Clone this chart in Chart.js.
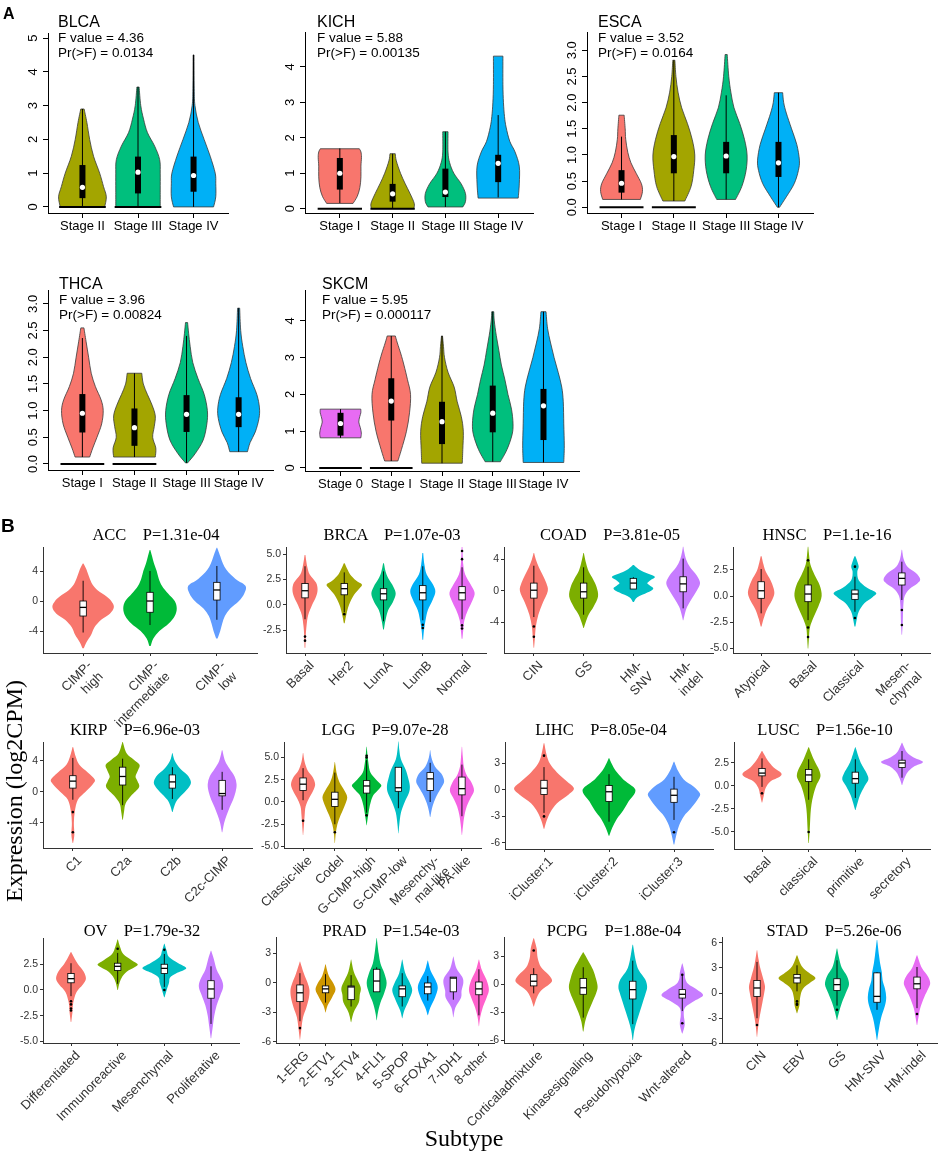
<!DOCTYPE html>
<html lang="en">
<head>
<meta charset="UTF-8">
<title>Expression by stage and subtype (violin plots)</title>
<script src="https://cdn.jsdelivr.net/npm/chart.js"></script>
<style>
  body { margin: 0; background: #fff; }
  #fig { position: relative; width: 941px; height: 1155px; overflow: hidden; font-family: "Liberation Sans", Arial, sans-serif; }
  #fig canvas { position: absolute; }
  .txt { position: absolute; white-space: pre; color: #000; }
  .headA { font-size: 16px; line-height: 16px; }
  .headA span { display: block; font-size: 13.5px; line-height: 15px; }
  .headB { font-family: "Liberation Serif", "Times New Roman", serif; font-size: 16.5px; line-height: 16px; width: 300px; text-align: center; }
  .big { font-family: "Liberation Serif", "Times New Roman", serif; font-size: 24px; line-height: 24px; width: 300px; text-align: center; }
  .letter { font-weight: bold; }
</style>
</head>
<body>
<div id="fig"></div>
<script>
// ---------- panel A : expression by tumour stage ----------
const blcaGroups = ['Stage II', 'Stage III', 'Stage IV'];
const blcaStats = ['4.36', '0.0134'];
const blcaTicks = ['0', '1', '2', '3', '4', '5'];
const blcaShapes = [
  [[0, 0.4], [0.3, 0.43], [0.6, 0.38], [1.0, 0.31], [1.5, 0.2], [2.0, 0.13], [2.5, 0.08], [2.9, 0.03]],
  [[0, 0.4], [0.5, 0.4], [1.0, 0.4], [1.4, 0.39], [1.8, 0.3], [2.2, 0.17], [2.6, 0.1], [3.0, 0.05], [3.55, 0.02]],
  [[0, 0.36], [0.3, 0.4], [0.7, 0.4], [1.0, 0.39], [1.5, 0.3], [2.0, 0.19], [2.5, 0.085], [3.0, 0.025], [3.5, 0.012], [4.5, 0.008]]
];
const blcaBoxes = [[0, 0.26, 0.58, 1.24, 2.9], [0, 0.4, 1.03, 1.49, 3.55], [0, 0.45, 0.93, 1.49, 4.5]];
const blcaZero = [1, 1, 0];

const kichGroups = ['Stage I', 'Stage II', 'Stage III', 'Stage IV'];
const kichStats = ['5.88', '0.00135'];
const kichTicks = ['0', '1', '2', '3', '4'];
const kichShapes = [
  [[0.15, 0.25], [0.35, 0.33], [0.6, 0.38], [0.9, 0.4], [1.2, 0.4], [1.45, 0.41], [1.6, 0.4], [1.69, 0.37]],
  [[0, 0.4], [0.15, 0.41], [0.43, 0.33], [0.7, 0.24], [1.0, 0.15], [1.35, 0.07], [1.55, 0.05]],
  [[0.05, 0.33], [0.2, 0.38], [0.43, 0.38], [0.7, 0.3], [1.0, 0.16], [1.3, 0.08], [1.6, 0.05], [2.17, 0.05]],
  [[0.3, 0.38], [0.7, 0.4], [1.2, 0.4], [1.6, 0.32], [1.9, 0.22], [2.3, 0.15], [2.6, 0.12], [3.0, 0.1], [3.5, 0.09], [4.3, 0.09]]
];
const kichBoxes = [[0.16, 0.54, 1.0, 1.43, 1.7], [0, 0.2, 0.42, 0.7, 1.55], [0.05, 0.33, 0.47, 1.13, 2.17], [0.32, 0.75, 1.28, 1.52, 2.64]];
const kichZero = [1, 1, 0, 0];

const escaGroups = ['Stage I', 'Stage II', 'Stage III', 'Stage IV'];
const escaStats = ['3.52', '0.0164'];
const escaTicks = ['0.0', '0.5', '1.0', '1.5', '2.0', '2.5', '3.0'];
const escaShapes = [
  [[0.15, 0.36], [0.3, 0.4], [0.45, 0.38], [0.65, 0.28], [0.85, 0.18], [1.05, 0.12], [1.3, 0.08], [1.5, 0.07], [1.76, 0.05]],
  [[0.12, 0.21], [0.4, 0.33], [0.7, 0.38], [1.0, 0.4], [1.3, 0.35], [1.6, 0.26], [1.9, 0.15], [2.2, 0.08], [2.5, 0.04], [2.81, 0.02]],
  [[0.15, 0.18], [0.4, 0.3], [0.7, 0.38], [1.0, 0.4], [1.3, 0.35], [1.6, 0.26], [1.9, 0.15], [2.2, 0.09], [2.5, 0.05], [2.92, 0.02]],
  [[0, 0.02], [0.2, 0.15], [0.45, 0.3], [0.7, 0.38], [0.9, 0.4], [1.2, 0.35], [1.5, 0.25], [1.8, 0.15], [2.0, 0.1], [2.19, 0.08]]
];
const escaBoxes = [[0.15, 0.28, 0.46, 0.71, 1.35], [0.12, 0.65, 0.97, 1.38, 2.81], [0.15, 0.65, 0.98, 1.25, 2.14], [0, 0.58, 0.85, 1.25, 2.19]];
const escaZero = [1, 1, 0, 0];

const thcaGroups = ['Stage I', 'Stage II', 'Stage III', 'Stage IV'];
const thcaStats = ['3.96', '0.00824'];
const thcaTicks = ['0.0', '0.5', '1.0', '1.5', '2.0', '2.5', '3.0'];
const thcaShapes = [
  [[0.13, 0.14], [0.3, 0.2], [0.5, 0.28], [0.75, 0.37], [1.0, 0.4], [1.2, 0.36], [1.45, 0.25], [1.7, 0.17], [2.0, 0.12], [2.3, 0.07], [2.55, 0.03]],
  [[0.13, 0.4], [0.3, 0.41], [0.5, 0.35], [0.7, 0.38], [0.9, 0.4], [1.1, 0.34], [1.3, 0.25], [1.5, 0.17], [1.7, 0.14]],
  [[0.02, 0.02], [0.2, 0.17], [0.45, 0.32], [0.75, 0.39], [1.0, 0.4], [1.3, 0.34], [1.6, 0.22], [1.9, 0.12], [2.2, 0.07], [2.45, 0.04], [2.65, 0.02]],
  [[0.23, 0.17], [0.4, 0.22], [0.6, 0.32], [0.85, 0.39], [1.05, 0.4], [1.3, 0.35], [1.6, 0.23], [1.9, 0.14], [2.2, 0.08], [2.5, 0.04], [2.92, 0.02]]
];
const thcaBoxes = [[0.13, 0.59, 0.95, 1.31, 2.36], [0.13, 0.34, 0.68, 1.04, 1.7], [0.02, 0.6, 0.93, 1.29, 2.4], [0.23, 0.69, 0.93, 1.25, 2.92]];
const thcaZero = [1, 1, 0, 0];

const skcmGroups = ['Stage 0', 'Stage I', 'Stage II', 'Stage III', 'Stage IV'];
const skcmStats = ['5.95', '0.000117'];
const skcmTicks = ['0', '1', '2', '3', '4'];
const skcmShapes = [
  [[0.82, 0.4], [0.95, 0.41], [1.1, 0.39], [1.25, 0.36], [1.4, 0.38], [1.5, 0.4], [1.6, 0.4]],
  [[0.19, 0.13], [0.5, 0.2], [1.0, 0.3], [1.5, 0.36], [2.0, 0.38], [2.4, 0.32], [2.8, 0.25], [3.1, 0.19], [3.4, 0.12], [3.59, 0.08]],
  [[0.13, 0.4], [0.5, 0.41], [1.0, 0.42], [1.4, 0.38], [1.8, 0.3], [2.2, 0.24], [2.6, 0.12], [3.0, 0.05], [3.3, 0.03], [3.59, 0.01]],
  [[0.17, 0.15], [0.5, 0.28], [0.9, 0.38], [1.2, 0.4], [1.6, 0.37], [2.0, 0.3], [2.4, 0.24], [2.8, 0.17], [3.2, 0.12], [3.6, 0.07], [4.0, 0.03], [4.25, 0.02]],
  [[0.15, 0.4], [0.6, 0.41], [1.2, 0.4], [1.8, 0.39], [2.2, 0.36], [2.6, 0.29], [3.0, 0.21], [3.4, 0.14], [3.8, 0.08], [4.25, 0.05]]
];
const skcmBoxes = [[0.82, 0.88, 1.21, 1.5, 1.6], [0.19, 1.29, 1.82, 2.44, 3.59], [0.13, 0.65, 1.26, 1.8, 3.59], [0.17, 0.97, 1.49, 2.24, 4.25], [0.15, 0.76, 1.69, 2.15, 4.25]];
const skcmZero = [1, 1, 0, 0, 0];

// ---------- panel B : expression by molecular subtype ----------
const accGroups = [['CIMP-', 'high'], ['CIMP-', 'intermediate'], ['CIMP-', 'low']];
const accTicks = ['-4', '0', '4'];
const accShapes = [
  [[-6.3, 0.01], [-5.5, 0.05], [-4.5, 0.12], [-3.5, 0.17], [-2.5, 0.27], [-1.7, 0.4], [-0.8, 0.46], [0, 0.42], [0.6, 0.35], [1.4, 0.22], [2.2, 0.14], [3.2, 0.09], [4.2, 0.05], [5, 0.005]],
  [[-6, 0.01], [-5, 0.05], [-4, 0.14], [-3, 0.28], [-2, 0.37], [-1, 0.4], [0, 0.37], [1, 0.27], [2, 0.18], [3, 0.13], [4, 0.1], [5, 0.06], [6, 0.03], [6.8, 0.005]],
  [[-5, 0.01], [-4, 0.05], [-3, 0.08], [-2, 0.12], [-1, 0.2], [0, 0.33], [1, 0.41], [2, 0.43], [2.8, 0.3], [3.5, 0.21], [4.2, 0.14], [5, 0.09], [6, 0.05], [7.1, 0.005]]
];
const accBoxes = [[-4.2, -2.0, -0.85, 0, 2.7], [-3.2, -1.5, 0, 1.16, 4.0], [-2.5, 0.13, 1.47, 2.49, 4.67]];
const accOutliers = [];

const brcaGroups = ['Basal', 'Her2', 'LumA', 'LumB', 'Normal'];
const brcaTicks = ['-2.5', '0.0', '2.5', '5.0'];
const brcaShapes = [
  [[-4.2, 0.01], [-3, 0.02], [-2, 0.04], [-1, 0.08], [0, 0.18], [0.8, 0.28], [1.5, 0.32], [2.2, 0.28], [3, 0.12], [3.7, 0.06], [4.9, 0.01]],
  [[-1.8, 0.01], [-1, 0.05], [0, 0.12], [1, 0.25], [1.6, 0.38], [2, 0.45], [2.4, 0.3], [3, 0.15], [3.5, 0.08], [4.1, 0.01]],
  [[-2.4, 0.01], [-1.5, 0.05], [-0.5, 0.12], [0.3, 0.24], [1.1, 0.31], [1.8, 0.25], [2.5, 0.14], [3.2, 0.06], [4.1, 0.01]],
  [[-3.4, 0.01], [-2.5, 0.03], [-1.5, 0.07], [-0.5, 0.13], [0.5, 0.25], [1.3, 0.32], [2, 0.26], [3, 0.1], [4, 0.04], [5.1, 0.01]],
  [[-3.3, 0.01], [-2.5, 0.03], [-1.5, 0.06], [-0.5, 0.15], [0.5, 0.27], [1.2, 0.32], [2, 0.22], [3, 0.08], [4, 0.03], [5.7, 0.01]]
];
const brcaBoxes = [[-1.4, 0.7, 1.4, 2.1, 3.8], [-0.7, 1.0, 1.6, 2.1, 3.2], [-1.6, 0.5, 1.1, 1.6, 3.3], [-1.5, 0.5, 1.2, 1.9, 3.8], [-1.4, 0.5, 1.2, 1.8, 3.7]];
const brcaOutliers = [[0, -3.1], [0, -3.5], [1, -0.9], [3, -1.95], [3, -2.25], [4, 4.5], [4, 5.3], [4, -2.0], [4, -2.3]];

const coadGroups = ['CIN', 'GS', ['HM-', 'SNV'], ['HM-', 'indel']];
const coadTicks = ['-4', '0', '4'];
const coadShapes = [
  [[-7.2, 0.005], [-6, 0.02], [-4.5, 0.04], [-3, 0.09], [-1.5, 0.18], [0, 0.28], [1, 0.25], [2, 0.18], [3, 0.1], [4, 0.04], [4.8, 0.005]],
  [[-4.7, 0.005], [-4, 0.04], [-3, 0.1], [-2, 0.2], [-0.7, 0.29], [0.5, 0.26], [1.5, 0.19], [2.5, 0.1], [3.5, 0.05], [4.8, 0.005]],
  [[-1.4, 0.01], [-0.8, 0.08], [-0.2, 0.28], [0.3, 0.4], [0.7, 0.33], [1.0, 0.28], [1.4, 0.35], [1.8, 0.43], [2.3, 0.25], [2.8, 0.1], [3.3, 0.01]],
  [[-3.7, 0.005], [-3, 0.03], [-2, 0.08], [-1, 0.17], [0, 0.27], [1, 0.34], [2, 0.27], [3, 0.14], [4, 0.06], [5, 0.02], [5.6, 0.005]]
];
const coadBoxes = [[-3.3, -0.9, 0.1, 1.0, 3.2], [-3, -0.9, -0.1, 1.0, 3], [0.25, 0.25, 1.0, 1.6, 1.75], [-2.2, -0.1, 0.9, 1.8, 4.1]];
const coadOutliers = [[0, -4.5], [0, -5.8]];

const hnscGroups = ['Atypical', 'Basal', 'Classical', ['Mesen-', 'chymal']];
const hnscTicks = ['-5.0', '-2.5', '0.0', '2.5'];
const hnscShapes = [
  [[-2.9, 0.01], [-2.2, 0.05], [-1.3, 0.12], [-0.5, 0.22], [0.2, 0.28], [0.8, 0.26], [1.5, 0.2], [2.3, 0.1], [3, 0.05], [3.8, 0.01]],
  [[-5, 0.005], [-4, 0.02], [-3, 0.04], [-2, 0.12], [-1, 0.22], [0, 0.29], [1, 0.25], [2, 0.14], [3, 0.05], [4, 0.02], [4.7, 0.005]],
  [[-2.9, 0.01], [-2.2, 0.04], [-1.5, 0.08], [-0.7, 0.2], [-0.1, 0.38], [0.3, 0.45], [0.8, 0.25], [1.5, 0.08], [2.3, 0.05], [2.8, 0.08], [3.3, 0.05], [3.8, 0.01]],
  [[-3.7, 0.005], [-2.5, 0.02], [-1, 0.03], [0, 0.06], [0.7, 0.17], [1.2, 0.33], [1.6, 0.39], [2.2, 0.3], [2.8, 0.12], [3.5, 0.04], [4.4, 0.005]]
];
const hnscBoxes = [[-1.65, -0.22, 0.5, 1.36, 2.57], [-2.3, -0.54, 0.19, 1.05, 2.8], [-1.5, -0.32, 0.19, 0.57, 1.84], [-0.38, 1.05, 1.68, 2.2, 3.27]];
const hnscOutliers = [[1, 3.4], [1, -3.0], [1, -3.9], [2, 2.8], [2, -2.1], [3, -1.33], [3, -2.76]];

const kirpGroups = ['C1', 'C2a', 'C2b', 'C2c-CIMP'];
const kirpTicks = ['-4', '0', '4'];
const kirpShapes = [
  [[-6.6, 0.005], [-5.5, 0.03], [-4, 0.02], [-2.5, 0.04], [-1, 0.1], [0, 0.25], [1, 0.4], [1.6, 0.44], [2.5, 0.3], [3.5, 0.13], [4.5, 0.06], [5.8, 0.005]],
  [[-3.6, 0.005], [-2.5, 0.03], [-1.5, 0.06], [-0.5, 0.17], [0.6, 0.33], [1.4, 0.3], [2, 0.26], [2.8, 0.31], [3.5, 0.34], [4.2, 0.22], [5, 0.08], [6.45, 0.005]],
  [[-2.6, 0.005], [-1.8, 0.04], [-1, 0.1], [0, 0.25], [0.8, 0.35], [1.4, 0.37], [2.2, 0.3], [3, 0.16], [4, 0.05], [5, 0.005]],
  [[-5.2, 0.005], [-4, 0.04], [-3, 0.09], [-2, 0.15], [-1, 0.22], [0, 0.27], [1, 0.29], [2, 0.25], [3, 0.15], [4, 0.06], [5.4, 0.005]]
];
const kirpBoxes = [[-1.0, 0.5, 1.4, 2.1, 4.4], [-1.7, 0.9, 2.0, 3.2, 4.3], [-0.9, 0.5, 1.3, 2.2, 3.2], [-2.3, -0.5, -0.2, 1.5, 2.6]];
const kirpOutliers = [[0, -2.6], [0, -5.2]];

const lggGroups = ['Classic-like', 'Codel', 'G-CIMP-high', 'G-CIMP-low', ['Mesenchy-', 'mal-like'], 'PA-like'];
const lggTicks = ['-5.0', '-2.5', '0.0', '2.5', '5.0'];
const lggShapes = [
  [[-3.7, 0.005], [-2.5, 0.03], [-1.5, 0.05], [-0.5, 0.08], [0.5, 0.2], [1.3, 0.32], [2, 0.38], [2.8, 0.3], [3.5, 0.15], [4.5, 0.05], [5.5, 0.005]],
  [[-4.6, 0.005], [-3.5, 0.03], [-2.5, 0.08], [-1.5, 0.18], [-0.5, 0.3], [0.5, 0.39], [1.3, 0.3], [2.2, 0.15], [3.2, 0.06], [4.5, 0.005]],
  [[-2.6, 0.005], [-1.7, 0.04], [-0.8, 0.08], [0, 0.13], [0.8, 0.22], [1.5, 0.4], [1.9, 0.46], [2.5, 0.3], [3.3, 0.12], [4.3, 0.06], [5.2, 0.03], [6.2, 0.005]],
  [[-3.5, 0.005], [-2.5, 0.03], [-1.2, 0.08], [0, 0.2], [1, 0.33], [1.8, 0.36], [2.8, 0.3], [3.7, 0.22], [4.8, 0.08], [5.8, 0.03], [6.8, 0.005]],
  [[-1.7, 0.005], [-1, 0.04], [0, 0.12], [1, 0.25], [1.8, 0.38], [2.4, 0.44], [3.2, 0.35], [4, 0.15], [5, 0.04], [5.8, 0.005]],
  [[-3.7, 0.005], [-2.5, 0.04], [-1.5, 0.08], [-0.5, 0.15], [0.5, 0.28], [1.3, 0.38], [2.2, 0.3], [3, 0.15], [4, 0.06], [5, 0.03], [6.2, 0.005]]
];
const lggBoxes = [[0.2, 1.3, 2.0, 2.7, 3.8], [-2.5, -0.5, 0.3, 1.1, 3.3], [-1.2, 1.0, 1.8, 2.4, 4.7], [-0.7, 1.2, 1.6, 3.9, 3.9], [0, 1.3, 2.6, 3.3, 4.4], [-1.6, 0.8, 1.5, 2.8, 4.2]];
const lggOutliers = [[0, -2.1], [1, -3.4], [2, 5.0], [2, 5.2], [2, -1.5]];

const lihcGroups = ['iCluster:1', 'iCluster:2', 'iCluster:3'];
const lihcTicks = ['-6', '-3', '0', '3'];
const lihcShapes = [
  [[-4.4, 0.005], [-3.5, 0.04], [-2.5, 0.1], [-1.5, 0.2], [-0.5, 0.38], [0.2, 0.46], [1, 0.35], [2, 0.2], [3, 0.09], [4, 0.04], [5.3, 0.005]],
  [[-5.2, 0.005], [-4.3, 0.05], [-3.3, 0.12], [-2.3, 0.22], [-1.3, 0.3], [-0.3, 0.4], [0.3, 0.38], [1.2, 0.22], [2.2, 0.1], [3, 0.04], [3.6, 0.005]],
  [[-6.2, 0.005], [-5, 0.04], [-4, 0.08], [-3, 0.15], [-2, 0.27], [-1, 0.37], [-0.4, 0.4], [0.4, 0.3], [1.2, 0.15], [2.2, 0.06], [3.2, 0.005]]
];
const lihcBoxes = [[-2.6, -0.5, 0.2, 1.1, 2.6], [-3.6, -1.3, -0.2, 0.5, 1.8], [-3.4, -1.4, -0.6, 0.1, 1.5]];
const lihcOutliers = [[0, 3.9], [0, -3.0], [2, -4.8]];

const luscGroups = ['basal', 'classical', 'primitive', 'secretory'];
const luscTicks = ['-5.0', '-2.5', '0.0', '2.5'];
const luscShapes = [
  [[-1.8, 0.005], [-1, 0.04], [-0.2, 0.08], [0.5, 0.18], [1.0, 0.38], [1.4, 0.41], [2, 0.25], [2.8, 0.12], [3.3, 0.06], [3.8, 0.005]],
  [[-6.2, 0.005], [-5, 0.02], [-4, 0.03], [-3, 0.04], [-2, 0.06], [-1, 0.1], [0, 0.16], [0.8, 0.24], [1.3, 0.25], [2, 0.2], [3, 0.1], [4.2, 0.005]],
  [[-2.6, 0.005], [-1.8, 0.05], [-1, 0.1], [0, 0.2], [0.7, 0.28], [1.4, 0.24], [2.2, 0.15], [3, 0.08], [4.2, 0.005]],
  [[0.1, 0.005], [0.8, 0.05], [1.5, 0.12], [2.1, 0.25], [2.6, 0.45], [3.1, 0.25], [3.7, 0.1], [4.7, 0.005]]
];
const luscBoxes = [[-0.1, 1.1, 1.4, 1.9, 3.0], [-1.5, 0.5, 1.2, 1.8, 2.9], [-1.3, 0.3, 0.8, 1.5, 2.9], [0.9, 2.0, 2.5, 2.8, 3.8]];
const luscOutliers = [[0, -0.8], [1, -5.0]];

const ovGroups = ['Differentiated', 'Immunoreactive', 'Mesenchymal', 'Proliferative'];
const ovTicks = ['-5.0', '-2.5', '0.0', '2.5'];
const ovShapes = [
  [[-3.1, 0.005], [-2.2, 0.03], [-1.2, 0.05], [-0.2, 0.12], [0.5, 0.25], [1.1, 0.32], [1.8, 0.27], [2.5, 0.15], [3.2, 0.06], [3.7, 0.005]],
  [[0, 0.005], [0.7, 0.04], [1.3, 0.1], [1.8, 0.2], [2.2, 0.36], [2.5, 0.43], [2.9, 0.3], [3.5, 0.12], [4.2, 0.05], [4.9, 0.005]],
  [[-0.7, 0.005], [0, 0.05], [0.7, 0.1], [1.2, 0.12], [1.6, 0.25], [2.1, 0.47], [2.6, 0.3], [3.2, 0.1], [3.8, 0.05], [4.5, 0.005]],
  [[-4.7, 0.005], [-3.5, 0.04], [-2.5, 0.07], [-1.5, 0.12], [-0.5, 0.2], [0.3, 0.26], [1, 0.23], [2, 0.12], [3, 0.06], [3.8, 0.005]]
];
const ovBoxes = [[-0.6, 0.7, 1.1, 1.6, 2.6], [0.6, 1.9, 2.3, 2.6, 3.6], [0.3, 1.6, 2.1, 2.5, 3.5], [-3.3, -0.8, 0.1, 0.9, 2.3]];
const ovOutliers = [[0, -1.1], [0, -1.4], [0, -1.8], [0, -2.0], [1, 4.0], [2, 0.0], [2, 3.9]];

const pradGroups = ['1-ERG', '2-ETV1', '3-ETV4', '4-FLI1', '5-SPOP', '6-FOXA1', '7-IDH1', '8-other'];
const pradTicks = ['-6', '-3', '0', '3'];
const pradShapes = [
  [[-5.8, 0.005], [-4.8, 0.05], [-3.5, 0.12], [-2.5, 0.25], [-1.5, 0.35], [-0.7, 0.37], [0, 0.3], [1, 0.15], [2.2, 0.005]],
  [[-3, 0.005], [-2.3, 0.08], [-1.5, 0.25], [-0.7, 0.39], [0, 0.3], [0.8, 0.12], [1.9, 0.005]],
  [[-4, 0.005], [-3, 0.1], [-2, 0.3], [-1.2, 0.34], [-0.5, 0.38], [0.3, 0.25], [1.2, 0.1], [2.4, 0.005]],
  [[-3.8, 0.005], [-3, 0.05], [-2, 0.15], [-1, 0.3], [0, 0.39], [1, 0.3], [2, 0.15], [3, 0.08], [4.6, 0.005]],
  [[-3.6, 0.005], [-2.8, 0.08], [-1.8, 0.25], [-0.8, 0.39], [0, 0.3], [1, 0.12], [2.4, 0.005]],
  [[-3.3, 0.005], [-2.5, 0.1], [-1.5, 0.28], [-0.5, 0.39], [0.3, 0.3], [1.2, 0.12], [2.3, 0.005]],
  [[-3.5, 0.005], [-2.5, 0.08], [-1.5, 0.3], [-0.8, 0.32], [0, 0.39], [0.6, 0.35], [1.5, 0.12], [2.7, 0.005]],
  [[-4.4, 0.005], [-3.5, 0.05], [-2.5, 0.15], [-1.5, 0.3], [-0.7, 0.39], [0.3, 0.3], [1.3, 0.12], [2.4, 0.005]]
];
const pradBoxes = [[-3.9, -1.9, -1.0, -0.2, 1.0], [-2.0, -1.0, -0.6, -0.3, 0.9], [-2.4, -1.7, -0.4, -0.3, 0.8], [-0.9, -0.9, 0.2, 1.4, 1.6],
  [-2.4, -1.4, -0.6, -0.3, 1.0], [-1.8, -1.1, -0.4, 0, 0.7], [-1.7, -0.9, 0.5, 0.6, 0.6], [-3.3, -1.2, -0.6, 0.1, 1.4]];
const pradOutliers = [[0, -4.6]];

const pcpgGroups = ['Corticaladmixture', 'Kinasesignaling', 'Pseudohypoxia', 'Wnt-altered'];
const pcpgTicks = ['-6', '-3', '0', '3'];
const pcpgShapes = [
  [[-2.4, 0.005], [-1.5, 0.06], [-0.7, 0.15], [0, 0.32], [0.4, 0.37], [1, 0.3], [1.8, 0.15], [2.8, 0.08], [3.8, 0.06], [4.9, 0.005]],
  [[-5.1, 0.005], [-4, 0.04], [-3, 0.1], [-2, 0.18], [-1, 0.26], [-0.3, 0.29], [0.5, 0.26], [1.5, 0.2], [2.5, 0.1], [3.4, 0.005]],
  [[-6, 0.005], [-5, 0.03], [-4, 0.08], [-3, 0.14], [-2, 0.2], [-1, 0.26], [-0.3, 0.29], [0.5, 0.25], [1.5, 0.12], [2.5, 0.06], [4.2, 0.005]],
  [[-5.3, 0.005], [-4.3, 0.05], [-3.3, 0.03], [-2.5, 0.06], [-1.8, 0.25], [-1.2, 0.42], [-0.6, 0.3], [0, 0.12], [0.6, 0.06], [1.2, 0.05], [2.2, 0.005]]
];
const pcpgBoxes = [[-1.0, -0.2, 0.3, 1.0, 1.7], [-3.6, -1.1, -0.4, 0.6, 1.8], [-4.3, -1.6, -0.6, 0.3, 2.5], [-2.9, -1.5, -1.1, -0.6, 1.0]];
const pcpgOutliers = [[0, 3.6], [3, -4.2], [3, 1.0]];

const stadGroups = ['CIN', 'EBV', 'GS', 'HM-SNV', 'HM-indel'];
const stadTicks = ['-6', '-3', '0', '3', '6'];
const stadShapes = [
  [[-5.2, 0.005], [-4, 0.03], [-3, 0.06], [-2, 0.1], [-1, 0.14], [0, 0.18], [0.8, 0.2], [1.8, 0.15], [3, 0.08], [4, 0.04], [5.1, 0.005]],
  [[-2.4, 0.005], [-1.5, 0.06], [-0.5, 0.08], [0.5, 0.15], [1.3, 0.35], [1.8, 0.46], [2.4, 0.3], [3.2, 0.12], [4.5, 0.005]],
  [[-3.2, 0.005], [-2.3, 0.05], [-1.2, 0.12], [0, 0.22], [1, 0.3], [2, 0.25], [3, 0.12], [4, 0.06], [5.3, 0.005]],
  [[-5.6, 0.005], [-4.5, 0.04], [-3, 0.1], [-1.5, 0.2], [-0.5, 0.23], [0.5, 0.2], [1.5, 0.14], [2.5, 0.12], [3.5, 0.08], [4.5, 0.05], [6.3, 0.005]],
  [[-3.8, 0.005], [-2.8, 0.04], [-1.8, 0.08], [-0.5, 0.18], [0.5, 0.28], [1.2, 0.33], [2, 0.27], [3, 0.12], [4.5, 0.005]]
];
const stadBoxes = [[-3, -0.4, 0.6, 1.5, 3.7], [0.2, 1.2, 1.8, 2.2, 3.3], [-1.5, 0.3, 1.0, 1.7, 3.9], [-2.0, -1.1, -0.4, 2.4, 2.5], [-1.8, 0.5, 1.1, 1.9, 3.1]];
const stadOutliers = [[0, -3.8], [1, -1.0], [1, -1.3], [1, -1.4], [2, -2.0], [4, -2.5]];

// ggplot default hues
const hue3 = ['#F8766D', '#00BA38', '#619CFF'];
const hue4 = ['#F8766D', '#7CAE00', '#00BFC4', '#C77CFF'];
const hue5 = ['#F8766D', '#A3A500', '#00BF7D', '#00B0F6', '#E76BF3'];
const hue6 = ['#F8766D', '#B79F00', '#00BA38', '#00BFC4', '#619CFF', '#F564E3'];
const hue8 = ['#F8766D', '#CD9600', '#7CAE00', '#00BE67', '#00BFC4', '#00A9FF', '#C77CFF', '#FF61CC'];

// layout: rect = plot area [left, top, right, bottom] in page px
const panels = [
  { name: 'BLCA', kind: 'A', rect: [48, 33, 228, 213], xr: [0.38, 3.62], yr: [-0.18, 5.15], head: [58, 14],
    groups: blcaGroups, shapes: blcaShapes, boxes: blcaBoxes, zero: blcaZero, ticks: blcaTicks, stats: blcaStats, colors: hue5.slice(1, 4) },
  { name: 'KICH', kind: 'A', rect: [305, 32, 533, 213], xr: [0.34, 4.66], yr: [-0.12, 4.98], head: [317, 14],
    groups: kichGroups, shapes: kichShapes, boxes: kichBoxes, zero: kichZero, ticks: kichTicks, stats: kichStats, colors: hue5.slice(0, 4) },
  { name: 'ESCA', kind: 'A', rect: [587, 32, 813, 213], xr: [0.34, 4.66], yr: [-0.109, 3.35], head: [598, 14],
    groups: escaGroups, shapes: escaShapes, boxes: escaBoxes, zero: escaZero, ticks: escaTicks, stats: escaStats, colors: hue5.slice(0, 4) },
  { name: 'THCA', kind: 'A', rect: [48, 290, 273, 470], xr: [0.34, 4.66], yr: [-0.113, 3.26], head: [59, 276],
    groups: thcaGroups, shapes: thcaShapes, boxes: thcaBoxes, zero: thcaZero, ticks: thcaTicks, stats: thcaStats, colors: hue5.slice(0, 4) },
  { name: 'SKCM', kind: 'A', rect: [305, 290, 579, 471], xr: [0.3, 5.7], yr: [-0.082, 4.84], head: [322, 276],
    groups: skcmGroups, shapes: skcmShapes, boxes: skcmBoxes, zero: skcmZero, ticks: skcmTicks, stats: skcmStats, colors: [hue5[4]].concat(hue5.slice(0, 4)) },

  { name: 'ACC', p: '1.31e-04', kind: 'B', rect: [43, 547, 257, 653], xr: [0.4, 3.6], yr: [-6.93, 7.2], head: [156, 535],
    groups: accGroups, shapes: accShapes, boxes: accBoxes, outliers: accOutliers, ticks: accTicks, colors: hue3 },
  { name: 'BRCA', p: '1.07e-03', kind: 'B', rect: [286, 547, 486, 653], xr: [0.516, 5.61], yr: [-4.71, 5.69], head: [392, 535],
    groups: brcaGroups, shapes: brcaShapes, boxes: brcaBoxes, outliers: brcaOutliers, ticks: brcaTicks, colors: hue5 },
  { name: 'COAD', p: '3.81e-05', kind: 'B', rect: [504, 547, 713, 653], xr: [0.4, 4.6], yr: [-7.85, 5.57], head: [610, 535],
    groups: coadGroups, shapes: coadShapes, boxes: coadBoxes, outliers: coadOutliers, ticks: coadTicks, colors: hue4 },
  { name: 'HNSC', p: '1.1e-16', kind: 'B', rect: [733, 547, 930, 653], xr: [0.4, 4.6], yr: [-5.43, 4.67], head: [827, 535],
    groups: hnscGroups, shapes: hnscShapes, boxes: hnscBoxes, outliers: hnscOutliers, ticks: hnscTicks, colors: hue4 },

  { name: 'KIRP', p: '6.96e-03', kind: 'B', rect: [43, 742, 252, 848], xr: [0.4, 4.6], yr: [-7.23, 6.45], head: [135, 730],
    groups: kirpGroups, shapes: kirpShapes, boxes: kirpBoxes, outliers: kirpOutliers, ticks: kirpTicks, colors: hue4 },
  { name: 'LGG', p: '9.07e-28', kind: 'B', rect: [284, 742, 481, 848], xr: [0.4, 6.6], yr: [-5.17, 6.74], head: [385, 730],
    groups: lggGroups, shapes: lggShapes, boxes: lggBoxes, outliers: lggOutliers, ticks: lggTicks, colors: hue6 },
  { name: 'LIHC', p: '8.05e-04', kind: 'B', rect: [505, 742, 713, 849], xr: [0.4, 3.6], yr: [-6.7, 5.45], head: [601, 730],
    groups: lihcGroups, shapes: lihcShapes, boxes: lihcBoxes, outliers: lihcOutliers, ticks: lihcTicks, colors: hue3 },
  { name: 'LUSC', p: '1.56e-10', kind: 'B', rect: [734, 742, 930, 849], xr: [0.4, 4.6], yr: [-6.85, 4.78], head: [825, 730],
    groups: luscGroups, shapes: luscShapes, boxes: luscBoxes, outliers: luscOutliers, ticks: luscTicks, colors: hue4 },

  { name: 'OV', p: '1.79e-32', kind: 'B', rect: [43, 938, 239, 1043], xr: [0.4, 4.6], yr: [-5.15, 5.05], head: [142, 931],
    groups: ovGroups, shapes: ovShapes, boxes: ovBoxes, outliers: ovOutliers, ticks: ovTicks, colors: hue4 },
  { name: 'PRAD', p: '1.54e-03', kind: 'B', rect: [276, 937, 494, 1043], xr: [0.0625, 8.59], yr: [-6.12, 4.69], head: [391, 931],
    groups: pradGroups, shapes: pradShapes, boxes: pradBoxes, outliers: pradOutliers, ticks: pradTicks, colors: hue8 },
  { name: 'PCPG', p: '1.88e-04', kind: 'B', rect: [504, 937, 712, 1043], xr: [0.4, 4.6], yr: [-6.32, 5.04], head: [614, 931],
    groups: pcpgGroups, shapes: pcpgShapes, boxes: pcpgBoxes, outliers: pcpgOutliers, ticks: pcpgTicks, colors: hue4 },
  { name: 'STAD', p: '5.26e-06', kind: 'B', rect: [722, 937, 937, 1043], xr: [0.125, 5.5], yr: [-5.95, 6.67], head: [834, 931],
    groups: stadGroups, shapes: stadShapes, boxes: stadBoxes, outliers: stadOutliers, ticks: stadTicks, colors: hue5 }
];

const fig = document.getElementById('fig');

function addText(cls, html, left, top, style) {
  const d = document.createElement('div');
  d.className = 'txt ' + cls;
  d.innerHTML = html;
  d.style.left = left + 'px';
  d.style.top = top + 'px';
  if (style) Object.assign(d.style, style);
  fig.appendChild(d);
}

// catmull-rom through the outline points
function smoothSide(ctx, pts) {
  for (let k = 0; k < pts.length - 1; k++) {
    const a = pts[k - 1] || pts[k], b = pts[k], c = pts[k + 1], d = pts[k + 2] || c;
    ctx.bezierCurveTo(b[0] + (c[0] - a[0]) / 6, b[1] + (c[1] - a[1]) / 6,
                      c[0] - (d[0] - b[0]) / 6, c[1] - (d[1] - b[1]) / 6, c[0], c[1]);
  }
}

function violinPlugin(p) {
  const isA = p.kind === 'A';
  return {
    id: 'violins',
    beforeDatasetsDraw(chart) {
      const ctx = chart.ctx, xs = chart.scales.x, ys = chart.scales.y;
      ctx.save();
      p.shapes.forEach((shape, i) => {
        const c = i + 1;
        const left = shape.map(([v, w]) => [xs.getPixelForValue(c - w), ys.getPixelForValue(v)]);
        const right = shape.map(([v, w]) => [xs.getPixelForValue(c + w), ys.getPixelForValue(v)]).reverse();
        ctx.beginPath();
        ctx.moveTo(left[0][0], left[0][1]);
        smoothSide(ctx, left);
        ctx.lineTo(right[0][0], right[0][1]);
        smoothSide(ctx, right);
        ctx.closePath();
        ctx.fillStyle = p.colors[i];
        ctx.fill();
        if (isA) { ctx.strokeStyle = '#3a3a3a'; ctx.lineWidth = 0.8; ctx.stroke(); }
      });
      if (isA) {
        const y0 = ys.getPixelForValue(0);
        ctx.strokeStyle = '#000'; ctx.lineWidth = 2;
        p.zero.forEach((z, i) => {
          if (!z) return;
          ctx.beginPath();
          ctx.moveTo(xs.getPixelForValue(i + 1 - 0.42), y0);
          ctx.lineTo(xs.getPixelForValue(i + 1 + 0.42), y0);
          ctx.stroke();
        });
      }
      p.boxes.forEach(([lo, q1, med, q3, hi], i) => {
        const cx = xs.getPixelForValue(i + 1);
        const yLo = ys.getPixelForValue(lo), yHi = ys.getPixelForValue(hi);
        const y1 = ys.getPixelForValue(q1), y3 = ys.getPixelForValue(q3), ym = ys.getPixelForValue(med);
        ctx.strokeStyle = '#000';
        ctx.lineWidth = isA ? 1 : 0.9;
        ctx.beginPath(); ctx.moveTo(cx, yLo); ctx.lineTo(cx, yHi); ctx.stroke();
        if (isA) {
          ctx.fillStyle = '#000';
          ctx.fillRect(cx - 3, y3, 6, y1 - y3);
        } else {
          ctx.fillStyle = '#fff';
          ctx.fillRect(cx - 3.2, y3, 6.4, y1 - y3);
          ctx.lineWidth = 0.8;
          ctx.strokeRect(cx - 3.2, y3, 6.4, y1 - y3);
          ctx.lineWidth = 1.3;
          ctx.beginPath(); ctx.moveTo(cx - 3.2, ym); ctx.lineTo(cx + 3.2, ym); ctx.stroke();
        }
      });
      ctx.restore();
    },
    afterDraw(chart) {
      if (!isA) return;
      // base-R style tick labels, written along the axis
      const ctx = chart.ctx, ys = chart.scales.y, left = chart.chartArea.left;
      ctx.save();
      ctx.font = '13px "Liberation Sans", Arial, sans-serif';
      ctx.fillStyle = '#000';
      ctx.textAlign = 'center';
      ctx.textBaseline = 'middle';
      ys.ticks.forEach((t, k) => {
        ctx.save();
        ctx.translate(left - 15, ys.getPixelForValue(t.value));
        ctx.rotate(-Math.PI / 2);
        ctx.fillText(p.ticks[k], 0, 0);
        ctx.restore();
      });
      ctx.restore();
    }
  };
}

function addPanel(p) {
  const isA = p.kind === 'A';
  const L = isA ? 60 : 130, T = 10, R = 12, B = isA ? 30 : 110;
  const [x0, y0, x1, y1] = p.rect;
  const cw = x1 - x0 + L + R, ch = y1 - y0 + T + B;
  const cv = document.createElement('canvas');
  cv.width = cw; cv.height = ch;
  cv.style.left = (x0 - L) + 'px';
  cv.style.top = (y0 - T) + 'px';
  cv.style.width = cw + 'px';
  cv.style.height = ch + 'px';
  fig.appendChild(cv);

  const axisCol = isA ? '#000' : '#333';
  const noPad = s => { s.paddingLeft = 0; s.paddingRight = 0; s.paddingTop = 0; s.paddingBottom = 0; };
  const dataset = isA
    ? { data: p.boxes.map((b, i) => ({ x: i + 1, y: b[2] })), pointRadius: 2.6, pointBackgroundColor: '#fff', pointBorderWidth: 0 }
    : { data: p.outliers.map(([g, v]) => ({ x: g + 1, y: v })), pointRadius: 1.3, pointBackgroundColor: '#000', pointBorderWidth: 0 };

  new Chart(cv, {
    type: 'scatter',
    data: { datasets: [dataset] },
    options: {
      responsive: false,
      animation: false,
      layout: { padding: { top: T, right: R, left: 0, bottom: 0 } },
      plugins: { legend: { display: false }, tooltip: { enabled: false } },
      scales: {
        x: {
          type: 'linear', position: 'bottom', bounds: 'data', min: p.xr[0], max: p.xr[1],
          grid: { display: true, drawOnChartArea: false, drawTicks: true, tickLength: isA ? 5 : 3, color: axisCol },
          border: { display: true, color: axisCol, width: 1 },
          ticks: {
            autoSkip: false, minRotation: isA ? 0 : 45, maxRotation: isA ? 0 : 45, padding: isA ? 1 : 2,
            labelOffset: isA ? 0 : 7,
            color: isA ? '#000' : '#333',
            font: { family: '"Liberation Sans", Arial, sans-serif', size: 13 },
            callback: (v, i) => p.groups[i]
          },
          afterBuildTicks: s => { s.ticks = p.groups.map((g, i) => ({ value: i + 1 })); },
          afterFit: s => { s.height = B; noPad(s); }
        },
        y: {
          type: 'linear', position: 'left', bounds: 'data', min: p.yr[0], max: p.yr[1],
          grid: { display: true, drawOnChartArea: false, drawTicks: true, tickLength: isA ? 5 : 3, color: axisCol },
          border: { display: true, color: axisCol, width: 1 },
          ticks: {
            display: !isA, padding: 2, color: '#333',
            font: { family: '"Liberation Sans", Arial, sans-serif', size: 10.5 },
            callback: (v, i) => p.ticks[i]
          },
          afterBuildTicks: s => { s.ticks = p.ticks.map(t => ({ value: parseFloat(t) })); },
          afterFit: s => { s.width = L; noPad(s); }
        }
      }
    },
    plugins: [violinPlugin(p)]
  });

  if (isA) {
    addText('headA', p.name + '<span>F value = ' + p.stats[0] + '</span><span>Pr(&gt;F) = ' + p.stats[1] + '</span>', p.head[0], p.head[1]);
  } else {
    addText('headB', p.name + '    P=' + p.p, p.head[0] - 150, p.head[1] - 8);
  }
}

panels.forEach(addPanel);

addText('letter', 'A', 3, 6, { fontSize: '16px', lineHeight: '16px' });
addText('letter', 'B', 1, 516, { fontSize: '19px', lineHeight: '19px' });
addText('big', 'Expression (log2CPM)', 14 - 150, 791 - 12, { transform: 'rotate(-90deg)' });
addText('big', 'Subtype', 464 - 150, 1138 - 12);
</script>
</body>
</html>
